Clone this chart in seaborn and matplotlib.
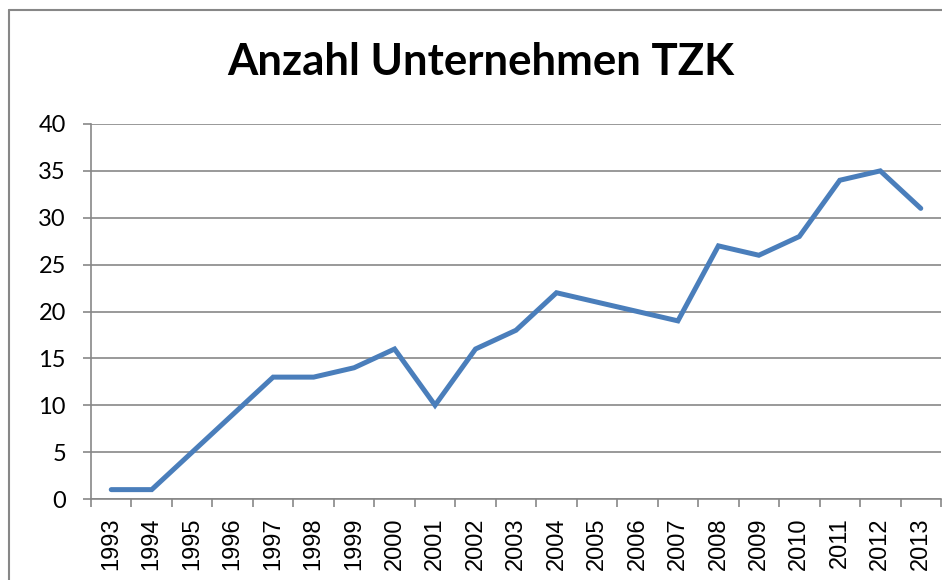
import numpy as np
import pandas as pd
import matplotlib.pyplot as plt
import seaborn as sns
from matplotlib.lines import Line2D

years = [str(y) for y in range(1993, 2014)]
counts = [1, 1, 5, 9, 13, 13, 14, 16, 10, 16, 18, 22, 21, 20, 19, 27, 26, 28, 34, 35, 31]

df = pd.DataFrame({'pos': np.arange(len(years)), 'anzahl': counts})

sns.set_style('white')
plt.rcParams['font.family'] = ['Lato', 'DejaVu Sans']
plt.rcParams['text.color'] = 'black'
plt.rcParams['xtick.labelcolor'] = 'black'
plt.rcParams['ytick.labelcolor'] = 'black'

fig = plt.figure(figsize=(9.42, 5.8), dpi=100)
ax = fig.add_axes([91/942, 1 - 499/580, 850/942, 375/580])

grey = '#878787'
# chart border (Excel frame), only left and top are visible
x0, y0 = 8.5/942, 1 - 9.5/580
fig.lines.append(Line2D([x0, x0], [0, y0], transform=fig.transFigure, color=grey, linewidth=1.5))
fig.lines.append(Line2D([x0, 1], [y0, y0], transform=fig.transFigure, color=grey, linewidth=1.5))

sns.lineplot(data=df, x='pos', y='anzahl', ax=ax, color='#4a7ebb', linewidth=3.6,
             solid_capstyle='round', solid_joinstyle='miter')

ax.set_xlim(-0.5, len(years) - 0.5)
ax.set_ylim(0, 40)
ax.set_yticks(range(0, 41, 5))
ax.yaxis.grid(True, color=grey, linewidth=1.2)
ax.set_axisbelow(True)
for s in ['top', 'right']:
    ax.spines[s].set_visible(False)
for s in ['left', 'bottom']:
    ax.spines[s].set_color(grey)
    ax.spines[s].set_linewidth(1.2)

ax.set_xticks(np.arange(len(years)))
ax.set_xticklabels(years, rotation=90, fontsize=17, family=['Liberation Sans', 'DejaVu Sans'])
ax.set_xticks(np.arange(len(years) + 1) - 0.5, minor=True)
ax.tick_params(axis='x', which='major', length=0, pad=13)
ax.tick_params(axis='x', which='minor', length=6, width=1.2, color=grey, bottom=True)
ax.tick_params(axis='y', length=6, width=1.2, color=grey, left=True, labelsize=17, pad=12)
ax.set_xlabel('')
ax.set_ylabel('')

fig.text(481/942, 1 - 62/580, 'Anzahl Unternehmen TZK', ha='center', va='center',
         fontsize=31.5, fontweight='bold')

fig.savefig('out.png', dpi=100)
